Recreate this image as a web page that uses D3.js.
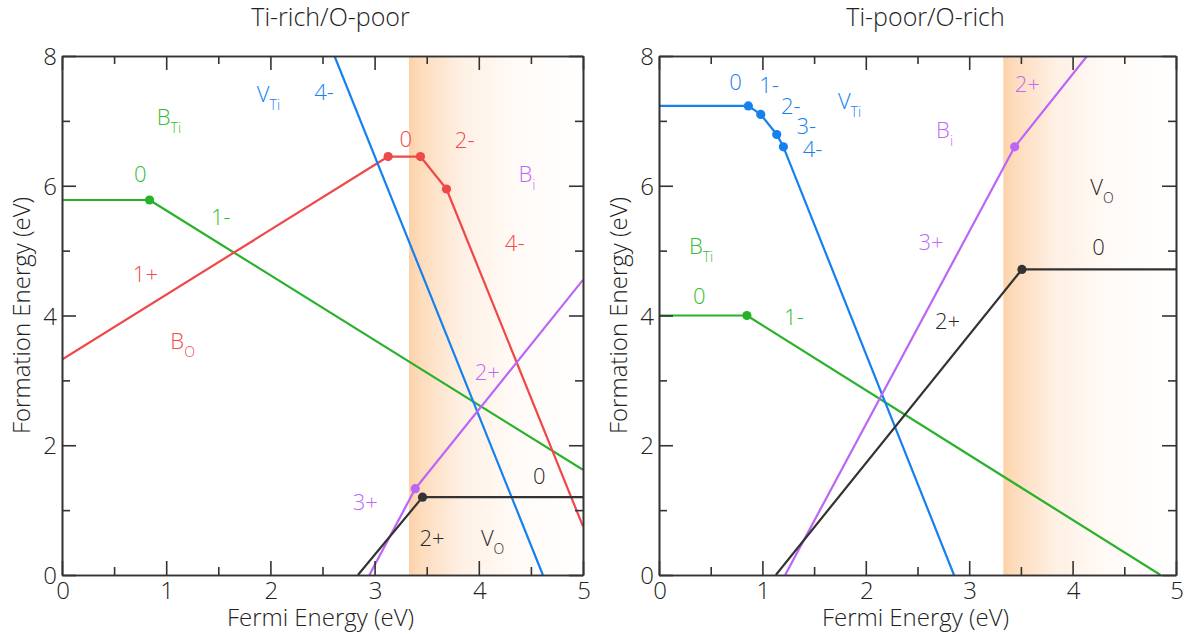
<!DOCTYPE html>
<html><head><meta charset="utf-8">
<script src="https://cdn.jsdelivr.net/npm/d3@7"></script>
<style>body{margin:0;background:#fff;} text{font-family:"Open Sans",Lato,sans-serif;font-weight:300;}</style>
</head><body><svg id="c" width="1186" height="634"></svg>
<script>
// ---- data ----
const xTicks = [0, 1, 2, 3, 4, 5];
const yTicks = [0, 2, 4, 6, 8];
const xMinor = [0.5, 1.5, 2.5, 3.5, 4.5];
const yMinor = [1, 3, 5, 7];
const bandStart = 3.33;
const titles = ["Ti-rich/O-poor", "Ti-poor/O-rich"];
const xLabel = "Fermi Energy (eV)";
const yLabel = "Formation Energy (eV)";

// Ti-rich / O-poor
const L_BTi = [[0, 5.78], [0.84, 5.78], [5, 1.62]];
const L_BO  = [[0, 3.32], [3.13, 6.45], [3.44, 6.45], [3.69, 5.95], [5, 0.75]];
const L_VTi = [[2.615, 8], [4.615, 0]];
const L_Bi  = [[2.95, 0], [3.39, 1.33], [5, 4.55]];
const L_VO  = [[2.84, 0], [3.46, 1.2], [5, 1.2]];

// Ti-poor / O-rich
const R_BTi = [[0, 4.0], [0.85, 4.0], [4.85, 0]];
const R_VTi = [[0, 7.23], [0.864, 7.23], [0.984, 7.10], [1.139, 6.79], [1.203, 6.60], [2.853, 0]];
const R_Bi  = [[1.22, 0], [3.44, 6.6], [4.14, 8]];
const R_VO  = [[1.13, 0], [3.51, 4.71], [5, 4.71]];

// annotations: [text, subscript, x (eV), y (eV), colour key]
const L_labels = [
  ["B", "Ti", 0.91, 6.93, "green"], ["0", "", 0.69, 6.06, "green"], ["1-", "", 1.43, 5.39, "green"],
  ["V", "Ti", 1.87, 7.29, "blue"], ["4-", "", 2.42, 7.32, "blue"],
  ["0", "", 3.24, 6.6, "red"], ["2-", "", 3.77, 6.58, "red"], ["4-", "", 4.25, 5.0, "red"],
  ["1+", "", 0.68, 4.52, "red"], ["B", "O", 1.04, 3.48, "red"],
  ["B", "i", 4.38, 6.06, "purple"], ["2+", "", 3.96, 3.0, "purple"], ["3+", "", 2.79, 1.0, "purple"],
  ["0", "", 4.52, 1.40, "black"], ["2+", "", 3.43, 0.45, "black"], ["V", "O", 4.02, 0.45, "black"]
];
const R_labels = [
  ["0", "", 0.68, 7.47, "blue"], ["1-", "", 0.97, 7.43, "blue"], ["2-", "", 1.18, 7.11, "blue"],
  ["3-", "", 1.33, 6.79, "blue"], ["4-", "", 1.39, 6.45, "blue"], ["V", "Ti", 1.73, 7.18, "blue"],
  ["2+", "", 3.44, 7.45, "purple"], ["B", "i", 2.68, 6.73, "purple"], ["3+", "", 2.51, 5.01, "purple"],
  ["V", "O", 4.17, 5.86, "black"], ["0", "", 4.19, 4.94, "black"], ["2+", "", 2.67, 3.79, "black"],
  ["B", "Ti", 0.29, 4.95, "green"], ["0", "", 0.33, 4.17, "green"], ["1-", "", 1.21, 3.85, "green"]
];

const colors = {green: "#27b22a", red: "#ef4848", blue: "#1580ee", purple: "#bb66f6", black: "#333333"};
const labelColors = {green: "#33bd33", red: "#f04a4a", blue: "#1582f0", purple: "#bd6af7", black: "#2a2a2a"};

// ---- drawing ----
const svg = d3.select("#c");
const defs = svg.append("defs");
const grad = defs.append("linearGradient").attr("id", "band").attr("x1", "0").attr("x2", "1").attr("y1", "0").attr("y2", "0");
grad.append("stop").attr("offset", "0").attr("stop-color", "#fcd2a8");
grad.append("stop").attr("offset", "0.07").attr("stop-color", "#fddcbc");
grad.append("stop").attr("offset", "0.3").attr("stop-color", "#fef0e4");
grad.append("stop").attr("offset", "0.6").attr("stop-color", "#fffaf6");
grad.append("stop").attr("offset", "1").attr("stop-color", "#ffffff");

function panel(left, right, title, series, labels) {
  const x = d3.scaleLinear().domain([0, 5]).range([left, right]);
  const y = d3.scaleLinear().domain([0, 8]).range([575, 56]);
  const g = svg.append("g");
  const clipId = "clip" + left;
  defs.append("clipPath").attr("id", clipId).append("rect")
    .attr("x", x(0)).attr("y", y(8)).attr("width", x(5) - x(0)).attr("height", y(0) - y(8));

  g.append("rect").attr("x", x(bandStart)).attr("y", y(8))
    .attr("width", x(5) - x(bandStart)).attr("height", y(0) - y(8)).attr("fill", "url(#band)");

  const line = d3.line().x(d => x(d[0])).y(d => y(d[1]));
  const lg = g.append("g").attr("clip-path", `url(#${clipId})`);
  series.forEach(([pts, c]) => {
    lg.append("path").attr("d", line(pts)).attr("fill", "none")
      .attr("stroke", colors[c]).attr("stroke-width", 2.2).attr("stroke-linejoin", "round");
  });
  series.forEach(([pts, c]) => {
    g.selectAll(null).data(pts.slice(1, -1)).enter().append("circle")
      .attr("cx", d => x(d[0])).attr("cy", d => y(d[1])).attr("r", 4.6).attr("fill", colors[c]);
  });

  // axes with inward ticks on all sides
  const axStyle = sel => { sel.selectAll("path,line").attr("stroke", "#333").attr("stroke-width", 1.6); sel.selectAll("text").remove(); };
  const mk = (axis, tr) => g.append("g").attr("transform", tr).call(axis).call(axStyle);
  mk(d3.axisBottom(x).tickValues(xTicks).tickSizeInner(-14).tickSizeOuter(0), `translate(0,${y(0)})`);
  mk(d3.axisBottom(x).tickValues(xMinor).tickSizeInner(-8).tickSizeOuter(0), `translate(0,${y(0)})`);
  mk(d3.axisTop(x).tickValues(xTicks).tickSizeInner(-14).tickSizeOuter(0), `translate(0,${y(8)})`);
  mk(d3.axisTop(x).tickValues(xMinor).tickSizeInner(-8).tickSizeOuter(0), `translate(0,${y(8)})`);
  mk(d3.axisLeft(y).tickValues(yTicks).tickSizeInner(-14).tickSizeOuter(0), `translate(${x(0)},0)`);
  mk(d3.axisLeft(y).tickValues(yMinor).tickSizeInner(-8).tickSizeOuter(0), `translate(${x(0)},0)`);
  mk(d3.axisRight(y).tickValues(yTicks).tickSizeInner(-14).tickSizeOuter(0), `translate(${x(5)},0)`);
  mk(d3.axisRight(y).tickValues(yMinor).tickSizeInner(-8).tickSizeOuter(0), `translate(${x(5)},0)`);

  // tick labels
  g.selectAll(null).data(xTicks).enter().append("text")
    .attr("x", d => x(d) + 1).attr("y", 599).attr("text-anchor", "middle")
    .attr("font-size", 24).attr("fill", "#222").text(d => d);
  g.selectAll(null).data(yTicks).enter().append("text")
    .attr("x", x(0) - 5).attr("y", d => y(d) + 9).attr("text-anchor", "end")
    .attr("font-size", 24).attr("fill", "#222").text(d => d);

  // axis titles
  g.append("text").attr("x", (x(0) + x(5)) / 2 - 2).attr("y", 626).attr("text-anchor", "middle")
    .attr("font-size", 24).attr("fill", "#222").text(xLabel);
  g.append("text").attr("transform", `translate(${x(0) - 32},${(y(0) + y(8)) / 2}) rotate(-90)`)
    .attr("text-anchor", "middle").attr("font-size", 24).attr("fill", "#222").text(yLabel);
  g.append("text").attr("x", (x(0) + x(5)) / 2 + 8).attr("y", 26).attr("text-anchor", "middle")
    .attr("font-size", 25).attr("fill", "#222").text(title);

  // annotations
  labels.forEach(([t, sub, lx, ly, c]) => {
    const tx = g.append("text").attr("x", x(lx)).attr("y", y(ly))
      .attr("font-size", 22).attr("fill", labelColors[c]);
    tx.append("tspan").text(t);
    if (sub) tx.append("tspan").attr("dy", 8).attr("font-size", 14).text(sub);
  });
}

panel(62, 583, titles[0], [[L_BTi, "green"], [L_BO, "red"], [L_VTi, "blue"], [L_Bi, "purple"], [L_VO, "black"]], L_labels);
panel(659, 1176, titles[1], [[R_BTi, "green"], [R_VTi, "blue"], [R_Bi, "purple"], [R_VO, "black"]], R_labels);
</script></body></html>
